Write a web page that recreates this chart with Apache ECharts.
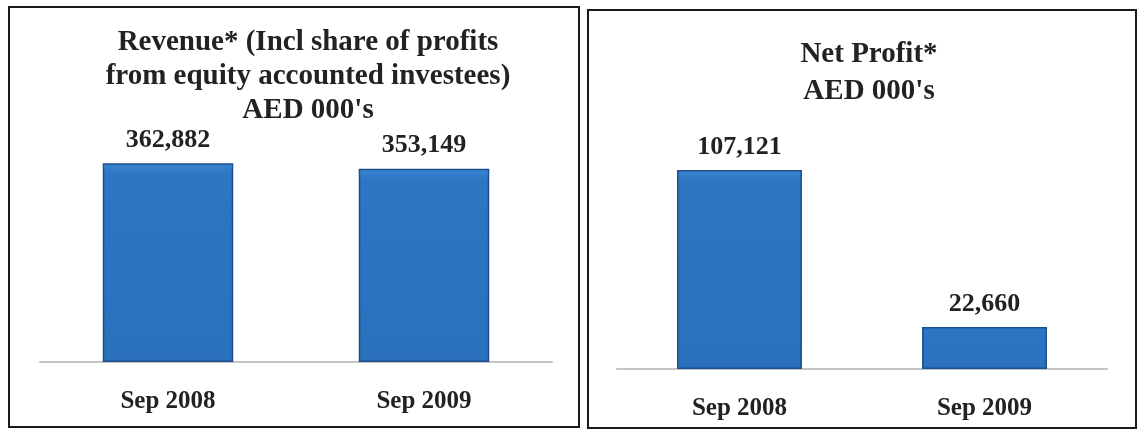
<!DOCTYPE html>
<html>
<head>
<meta charset="utf-8">
<script src="https://cdn.jsdelivr.net/npm/echarts@6/dist/echarts.min.js"></script>
<style>
  html, body { margin: 0; padding: 0; background: #fff; }
  #main { width: 1139px; height: 430px; }
</style>
</head>
<body>
<div id="main"></div>
<script>
// data
var categories = ['Sep 2008', 'Sep 2009'];
var revenue = [362882, 353149];
var netProfit = [107121, 22660];
var revenueTitle = 'Revenue* (Incl share of profits\nfrom equity accounted investees)\nAED 000\'s';
var profitTitle = 'Net Profit*\nAED 000\'s';

var font = 'Liberation Serif';

function fmt(v) {
  return String(v).replace(/\B(?=(\d{3})+(?!\d))/g, ',');
}

var chartDom = document.getElementById('main');
var myChart = echarts.init(chartDom, null, { renderer: 'canvas' });
var option;

var barStyle = {
  color: new echarts.graphic.LinearGradient(0, 0, 0, 1, [
    { offset: 0, color: '#3a84d0' },
    { offset: 0.06, color: '#2c76c4' },
    { offset: 1, color: '#2a70bd' }
  ]),
  borderColor: '#1d4f8c',
  borderWidth: 1.5
};

var labelStyle = {
  show: true,
  position: 'top',
  distance: 10,
  fontFamily: font,
  fontWeight: 'bold',
  fontSize: 26,
  color: '#222',
  formatter: function (p) { return fmt(p.value); }
};

var catAxis = function (idx) {
  return {
    type: 'category',
    gridIndex: idx,
    data: categories,
    axisTick: { show: false },
    axisLine: { lineStyle: { color: '#c4c4c4', width: 2 } },
    axisLabel: {
      margin: 27,
      fontFamily: font,
      fontWeight: 'bold',
      fontSize: 25,
      color: '#222'
    }
  };
};

option = {
  backgroundColor: '#fff',
  animation: false,
  title: [
    {
      text: revenueTitle,
      left: 303,
      top: 21,
      textAlign: 'center',
      textStyle: { fontFamily: font, fontWeight: 'bold', fontSize: 29, lineHeight: 34, color: '#222' }
    },
    {
      text: profitTitle,
      left: 864,
      top: 31,
      textAlign: 'center',
      textStyle: { fontFamily: font, fontWeight: 'bold', fontSize: 29, lineHeight: 37, color: '#222' }
    }
  ],
  grid: [
    { left: 40, right: 587, top: 143, bottom: 68 },
    { left: 617, right: 32, top: 146, bottom: 61 }
  ],
  xAxis: [catAxis(0), catAxis(1)],
  yAxis: [
    { type: 'value', gridIndex: 0, min: 0, max: 400000, show: false },
    { type: 'value', gridIndex: 1, min: 0, max: 120000, show: false }
  ],
  series: [
    {
      type: 'bar',
      xAxisIndex: 0,
      yAxisIndex: 0,
      data: revenue,
      barWidth: '51%',
      itemStyle: barStyle,
      label: labelStyle
    },
    {
      type: 'bar',
      xAxisIndex: 1,
      yAxisIndex: 1,
      data: netProfit,
      barWidth: '51%',
      itemStyle: barStyle,
      label: labelStyle
    }
  ],
  graphic: [
    // panel frames
    {
      type: 'rect',
      shape: { x: 9, y: 7, width: 570, height: 420 },
      style: { fill: 'none', stroke: '#1a1a1a', lineWidth: 2 },
      z: 100
    },
    {
      type: 'rect',
      shape: { x: 588, y: 10, width: 548, height: 418 },
      style: { fill: 'none', stroke: '#1a1a1a', lineWidth: 2 },
      z: 100
    }
  ]
};

option && myChart.setOption(option);
</script>
</body>
</html>
